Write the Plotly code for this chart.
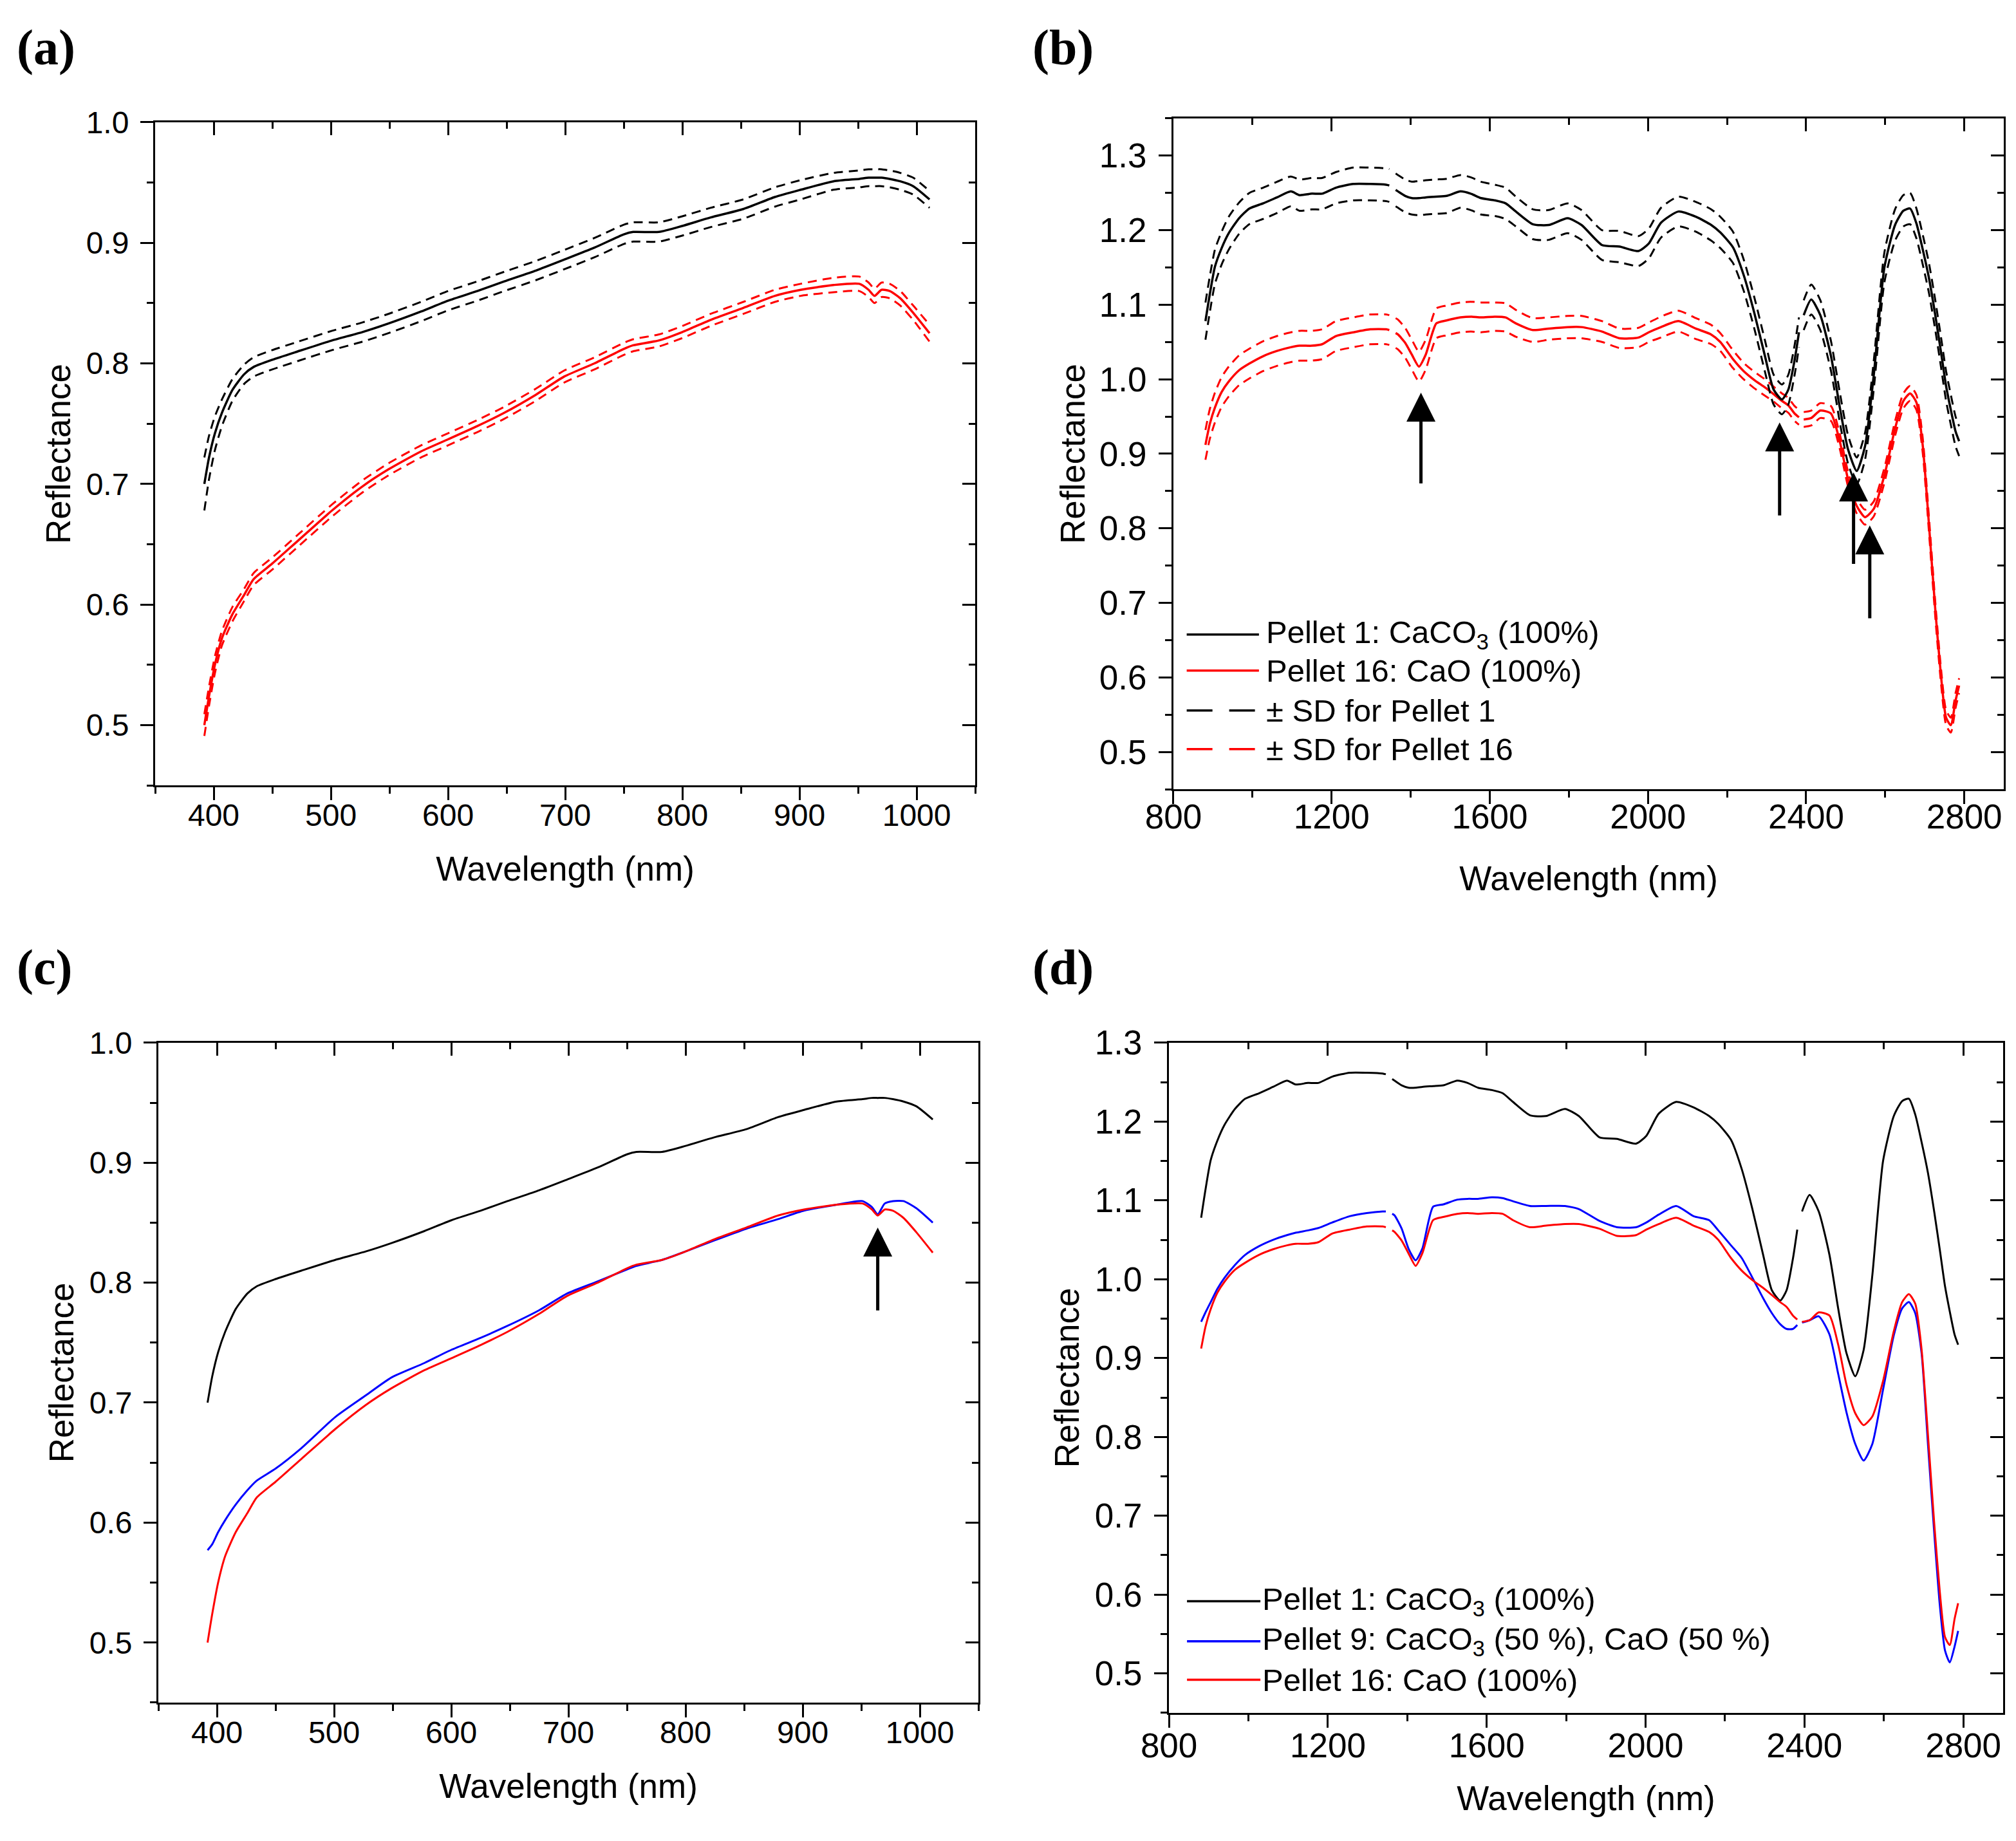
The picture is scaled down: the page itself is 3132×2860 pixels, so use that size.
import plotly.graph_objects as go

# ---- VNIR spectra, panels (a) and (c) ----
wl_vnir = [392, 396, 401, 407, 416, 426, 434, 450, 472, 501, 527, 549, 577, 600, 625,
           648, 675, 699, 725, 750, 758, 780, 800, 824, 852, 879, 901, 929, 951, 959,
           964, 970, 977, 986, 997, 1011]
p1_vnir = [0.700, 0.722, 0.742, 0.759, 0.778, 0.791, 0.797, 0.803, 0.810, 0.819,
           0.826, 0.833, 0.843, 0.852, 0.860, 0.868, 0.877, 0.886, 0.896, 0.907,
           0.909, 0.909, 0.914, 0.921, 0.928, 0.938, 0.944, 0.951, 0.953, 0.954,
           0.954, 0.954, 0.953, 0.951, 0.947, 0.936]
p9_vnir = [0.577, 0.582, 0.592, 0.602, 0.615, 0.627, 0.635, 0.645, 0.662, 0.688,
           0.706, 0.721, 0.733, 0.744, 0.754, 0.764, 0.777, 0.791, 0.801, 0.811,
           0.814, 0.819, 0.826, 0.835, 0.845, 0.853, 0.860, 0.865, 0.868, 0.863,
           0.857, 0.866, 0.868, 0.868, 0.862, 0.850]
p16_vnir = [0.500, 0.524, 0.550, 0.572, 0.592, 0.608, 0.621, 0.634, 0.653, 0.678,
            0.698, 0.712, 0.727, 0.737, 0.748, 0.759, 0.774, 0.789, 0.800, 0.812,
            0.815, 0.819, 0.826, 0.836, 0.846, 0.856, 0.861, 0.865, 0.866, 0.861,
            0.856, 0.861, 0.860, 0.854, 0.842, 0.825]
sd1_vnir = [0.022, 0.018, 0.014, 0.011, 0.009, 0.008, 0.008, 0.008, 0.008, 0.008,
            0.008, 0.008, 0.008, 0.008, 0.008, 0.008, 0.008, 0.008, 0.008, 0.008,
            0.008, 0.008, 0.008, 0.008, 0.008, 0.008, 0.008, 0.007, 0.007, 0.007,
            0.007, 0.007, 0.007, 0.007, 0.007, 0.007]
sd16_vnir = [0.009, 0.008, 0.007, 0.006, 0.006, 0.005, 0.005, 0.005, 0.005, 0.005,
             0.005, 0.005, 0.005, 0.005, 0.005, 0.005, 0.005, 0.005, 0.005, 0.005,
             0.005, 0.005, 0.005, 0.005, 0.005, 0.005, 0.005, 0.006, 0.006, 0.006,
             0.006, 0.006, 0.006, 0.006, 0.006, 0.007]

# ---- SWIR spectra, panels (b) and (d); None = detector gap ----
wl_swir = [881, 892, 905, 922, 940, 966, 992, 1027, 1062, 1097,
           1119, 1150, 1176, 1211, 1255, 1298, 1338, 1346, 1354, 1362,
           1368, 1386, 1403, 1421, 1438, 1465, 1491, 1526, 1552, 1578,
           1613, 1640, 1666, 1709, 1749, 1797, 1832, 1884, 1928, 1976,
           2002, 2033, 2077, 2121, 2160, 2183, 2215, 2242, 2269, 2296,
           2318, 2339, 2355, 2371, 2382, 2388, 2394, 2413, 2436, 2463,
           2485, 2506, 2528, 2549, 2571, 2598, 2625, 2646, 2663, 2679,
           2695, 2711, 2727, 2741, 2754, 2766, 2778, 2787]
p1_swir = [1.078, 1.114, 1.151, 1.176, 1.196, 1.216, 1.229, 1.236, 1.244, 1.252,
           1.247, 1.249, 1.249, 1.257, 1.262, 1.262, 1.261, 1.260, None, 1.254,
           1.252, 1.246, 1.243, 1.243, 1.244, 1.245, 1.246, 1.252, 1.249, 1.243,
           1.240, 1.236, 1.225, 1.208, 1.207, 1.216, 1.207, 1.180, 1.178, 1.172,
           1.182, 1.210, 1.225, 1.218, 1.207, 1.197, 1.177, 1.140, 1.089, 1.031,
           0.986, 0.973, 0.986, 1.026, 1.063, None, 1.086, 1.107, 1.086, 1.031,
           0.963, 0.906, 0.877, 0.910, 1.005, 1.150, 1.207, 1.226, 1.229, 1.209,
           1.174, 1.135, 1.085, 1.037, 0.991, 0.959, 0.930, 0.917]
p9_swir = [0.946, 0.958, 0.971, 0.988, 1.002, 1.018, 1.031, 1.042, 1.050, 1.056,
           1.059, 1.062, 1.065, 1.072, 1.080, 1.084, 1.086, 1.086, None, 1.083,
           1.081, 1.064, 1.039, 1.024, 1.039, 1.092, 1.095, 1.101, 1.102, 1.102,
           1.104, 1.103, 1.099, 1.093, 1.093, 1.093, 1.089, 1.074, 1.066, 1.066,
           1.072, 1.082, 1.093, 1.080, 1.075, 1.062, 1.043, 1.027, 1.002, 0.976,
           0.957, 0.943, 0.937, 0.937, 0.942, None, 0.945, 0.948, 0.953, 0.930,
           0.880, 0.831, 0.791, 0.770, 0.791, 0.860, 0.929, 0.963, 0.971, 0.957,
           0.906, 0.791, 0.677, 0.586, 0.529, 0.514, 0.534, 0.554]
p16_swir = [0.912, 0.940, 0.962, 0.983, 0.997, 1.012, 1.021, 1.031, 1.038, 1.043,
            1.045, 1.045, 1.047, 1.058, 1.063, 1.067, 1.067, 1.066, None, 1.062,
            1.060, 1.049, 1.033, 1.017, 1.033, 1.075, 1.079, 1.083, 1.084, 1.083,
            1.084, 1.083, 1.075, 1.066, 1.068, 1.070, 1.070, 1.064, 1.055, 1.056,
            1.063, 1.070, 1.078, 1.068, 1.060, 1.050, 1.027, 1.011, 0.999, 0.989,
            0.980, 0.971, 0.965, 0.954, 0.949, None, 0.946, 0.948, 0.958, 0.954,
            0.917, 0.866, 0.830, 0.815, 0.826, 0.871, 0.934, 0.971, 0.981, 0.969,
            0.911, 0.803, 0.689, 0.603, 0.546, 0.536, 0.569, 0.589]
sd1_swir = [0.025, 0.024, 0.023, 0.022, 0.022, 0.021, 0.021, 0.021, 0.021, 0.020,
            0.021, 0.021, 0.021, 0.021, 0.022, 0.022, 0.022, 0.022, 0.022, 0.022,
            0.022, 0.022, 0.022, 0.023, 0.023, 0.023, 0.023, 0.022, 0.022, 0.022,
            0.021, 0.021, 0.020, 0.020, 0.020, 0.020, 0.020, 0.020, 0.021, 0.020,
            0.020, 0.020, 0.020, 0.020, 0.021, 0.021, 0.021, 0.021, 0.021, 0.021,
            0.020, 0.020, 0.020, 0.020, 0.020, 0.020, 0.020, 0.020, 0.020, 0.020,
            0.020, 0.019, 0.018, 0.018, 0.019, 0.020, 0.021, 0.021, 0.021, 0.020,
            0.020, 0.020, 0.020, 0.020, 0.020, 0.020, 0.020, 0.020]
sd16_swir = [0.020, 0.020, 0.020, 0.020, 0.020, 0.020, 0.020, 0.020, 0.020, 0.020,
             0.020, 0.020, 0.020, 0.020, 0.020, 0.020, 0.020, 0.020, 0.020, 0.020,
             0.020, 0.020, 0.020, 0.020, 0.020, 0.020, 0.020, 0.020, 0.020, 0.020,
             0.019, 0.019, 0.018, 0.016, 0.015, 0.015, 0.015, 0.014, 0.013, 0.013,
             0.013, 0.014, 0.014, 0.014, 0.013, 0.012, 0.012, 0.011, 0.011, 0.011,
             0.010, 0.010, 0.010, 0.010, 0.010, 0.010, 0.010, 0.010, 0.010, 0.010,
             0.010, 0.010, 0.010, 0.010, 0.010, 0.010, 0.010, 0.010, 0.010, 0.010,
             0.010, 0.010, 0.010, 0.010, 0.010, 0.010, 0.010, 0.010]

# ---- arrows: wavelength, head tip, tail ----
arrow_b_wl = [1426, 2333, 2520, 2561]
arrow_b_tip = [0.982, 0.942, 0.875, 0.804]
arrow_b_tail = [0.859, 0.816, 0.751, 0.678]
arrow_c_wl = [964]
arrow_c_tip = [0.846]
arrow_c_tail = [0.776]

legend_b = ["Pellet 1: CaCO<sub>3</sub> (100%)", "Pellet 16: CaO (100%)",
            "± SD for Pellet 1", "± SD for Pellet 16"]
legend_d = ["Pellet 1: CaCO<sub>3</sub> (100%)",
            "Pellet 9: CaCO<sub>3</sub> (50 %), CaO (50 %)",
            "Pellet 16: CaO (100%)"]

FONT = "Liberation Sans, Arial, sans-serif"
BLACK, RED, BLUE = "#000000", "#ff0000", "#0000ff"
DASH = "14px,9px"

fig = go.Figure()


def band(vals, sd, k):
    return [None if v is None else round(v + k * s, 4) for v, s in zip(vals, sd)]


def add_line(x, y, color, sub, dash=None, width=3.5, top=None):
    # "top" puts the trace on the twin axes that carry the inner ticks
    xa, ya = ("x" + top, "y" + top) if top else ("x" + sub, "y" + sub)
    fig.add_trace(go.Scatter(x=x, y=y, mode="lines", xaxis=xa, yaxis=ya,
                             line=dict(color=color, width=width, dash=dash,
                                       shape="spline", smoothing=0.6),
                             showlegend=False, hoverinfo="skip"))


# (a) VNIR mean +/- SD
for k in (1, -1):
    add_line(wl_vnir, band(p1_vnir, sd1_vnir, k), BLACK, "", DASH, 3)
add_line(wl_vnir, p1_vnir, BLACK, "")
for k in (1, -1):
    add_line(wl_vnir, band(p16_vnir, sd16_vnir, k), RED, "", DASH, 3)
add_line(wl_vnir, p16_vnir, RED, "", top="5")

# (b) SWIR mean +/- SD
for k in (1, -1):
    add_line(wl_swir, band(p16_swir, sd16_swir, k), RED, "2", DASH, 3)
add_line(wl_swir, p16_swir, RED, "2")
for k in (1, -1):
    add_line(wl_swir, band(p1_swir, sd1_swir, k), BLACK, "2", DASH, 3)
add_line(wl_swir, p1_swir, BLACK, "2", top="6")

# (c) VNIR pellets 1, 9, 16
add_line(wl_vnir, p1_vnir, BLACK, "3", width=3)
add_line(wl_vnir, p9_vnir, BLUE, "3", width=3)
add_line(wl_vnir, p16_vnir, RED, "3", width=3, top="7")

# (d) SWIR pellets 1, 9, 16
add_line(wl_swir, p1_swir, BLACK, "4", width=3)
add_line(wl_swir, p9_swir, BLUE, "4", width=3)
add_line(wl_swir, p16_swir, RED, "4", width=3, top="8")

panels = [
    # sub, x domain, y domain, x range, y range, x dtick, tick size, x label shift, x title standoff, y title standoff
    ("", [0.0744, 0.4812], [0.5762, 0.9364], [350, 1050], [0.45, 1.0], 100, 48, -18, 40, 8),
    ("2", [0.5795, 0.9914], [0.5741, 0.9385], [800, 2900], [0.45, 1.35], 400, 53, -26, 50, 6),
    ("3", [0.0760, 0.4828], [0.0780, 0.4364], [350, 1050], [0.45, 1.0], 100, 48, -18, 40, 8),
    ("4", [0.5773, 0.9910], [0.0724, 0.4364], [800, 2900], [0.45, 1.3], 400, 53, -18, 36, 8),
]

layout = {}
for i, (sub, dx, dy, xr, yr, xdt, fs, xshift, xst, yst) in enumerate(panels):
    tick = dict(ticklen=20, tickwidth=3, tickcolor="black")
    base = dict(showline=True, linecolor="black", linewidth=3, mirror=True,
                ticks="outside", showgrid=False, zeroline=False, automargin=False,
                tickfont=dict(family=FONT, size=fs, color="black"), **tick)
    layout["xaxis" + sub] = dict(
        base, domain=dx, range=xr, dtick=xdt, tick0=0, anchor="y" + sub,
        ticklabelstandoff=xshift,
        minor=dict(dtick=xdt / 2, ticks="outside", ticklen=10, tickwidth=3, tickcolor="black"),
        title=dict(text="Wavelength (nm)", standoff=xst,
                   font=dict(family=FONT, size=53, color="black")))
    layout["yaxis" + sub] = dict(
        base, domain=dy, range=yr, dtick=0.1, tick0=0, tickformat=".1f", anchor="x" + sub,
        ticklabelstandoff=8,
        minor=dict(dtick=0.05, ticks="outside", ticklen=10, tickwidth=3, tickcolor="black"),
        title=dict(text="Reflectance", standoff=yst,
                   font=dict(family=FONT, size=53, color="black")))
    # twin axes on the same frame: inward ticks on the top and right edges
    n = str(i + 5)
    inner = dict(ticks="inside", showticklabels=False, showline=False, showgrid=False,
                 zeroline=False, automargin=False, **tick)
    layout["xaxis" + n] = dict(
        inner, domain=dx, anchor="y" + n, side="top", range=xr, dtick=xdt, tick0=0,
        minor=dict(dtick=xdt / 2, ticks="inside", ticklen=10, tickwidth=3, tickcolor="black"))
    layout["yaxis" + n] = dict(
        inner, domain=dy, anchor="x" + n, side="right", range=yr, dtick=0.1, tick0=0,
        minor=dict(dtick=0.05, ticks="inside", ticklen=10, tickwidth=3, tickcolor="black"))

annotations = []
shapes = []

# panel letters
for label, px, py in [("(a)", 0.005, 0.977), ("(b)", 0.509, 0.977),
                      ("(c)", 0.005, 0.4776), ("(d)", 0.509, 0.4776)]:
    annotations.append(dict(text="<b>" + label + "</b>", x=px, y=py, xref="paper", yref="paper",
                            xanchor="left", yanchor="middle", showarrow=False,
                            font=dict(family="Liberation Serif, Times New Roman, serif",
                                      size=78, color="black")))

# arrows
for sub, wls, tips, tails in [("2", arrow_b_wl, arrow_b_tip, arrow_b_tail),
                              ("3", arrow_c_wl, arrow_c_tip, arrow_c_tail)]:
    for w, tip, tail in zip(wls, tips, tails):
        annotations.append(dict(x=w, y=tip, ax=w, ay=tail, xref="x" + sub, yref="y" + sub,
                                axref="x" + sub, ayref="y" + sub, text="", showarrow=True,
                                arrowhead=2, arrowsize=1.8, arrowwidth=5, arrowcolor="black",
                                standoff=0, startstandoff=0))

# hand-drawn legends (long line samples, like the original)
leg_b_styles = [(BLACK, None), (RED, None), (BLACK, "40px,26px"), (RED, "40px,26px")]
leg_b_rows = [0.2306, 0.1769, 0.1174, 0.0598]
for text, (color, dash), ry in zip(legend_b, leg_b_styles, leg_b_rows):
    shapes.append(dict(type="line", xref="x2 domain", yref="y2 domain", x0=0.016, x1=0.103,
                       y0=ry, y1=ry, line=dict(color=color, width=3.5, dash=dash)))
    annotations.append(dict(text=text, x=0.110, y=ry, xref="x2 domain", yref="y2 domain",
                            xanchor="left", yanchor="middle", showarrow=False,
                            font=dict(family=FONT, size=49, color="black")))

leg_d_colors = [BLACK, BLUE, RED]
leg_d_rows = [0.1665, 0.1069, 0.0493]
for text, color, ry in zip(legend_d, leg_d_colors, leg_d_rows):
    shapes.append(dict(type="line", xref="x4 domain", yref="y4 domain", x0=0.0216, x1=0.1096,
                       y0=ry, y1=ry, line=dict(color=color, width=3.5)))
    annotations.append(dict(text=text, x=0.110, y=ry, xref="x4 domain", yref="y4 domain",
                            xanchor="left", yanchor="middle", showarrow=False,
                            font=dict(family=FONT, size=49, color="black")))

fig.update_layout(
    template="none",
    width=3132,
    height=2860,
    margin=dict(l=0, r=0, t=0, b=0),
    paper_bgcolor="white",
    plot_bgcolor="rgba(0,0,0,0)",
    showlegend=False,
    annotations=annotations,
    shapes=shapes,
    **layout,
)

fig.write_html("out.html")
